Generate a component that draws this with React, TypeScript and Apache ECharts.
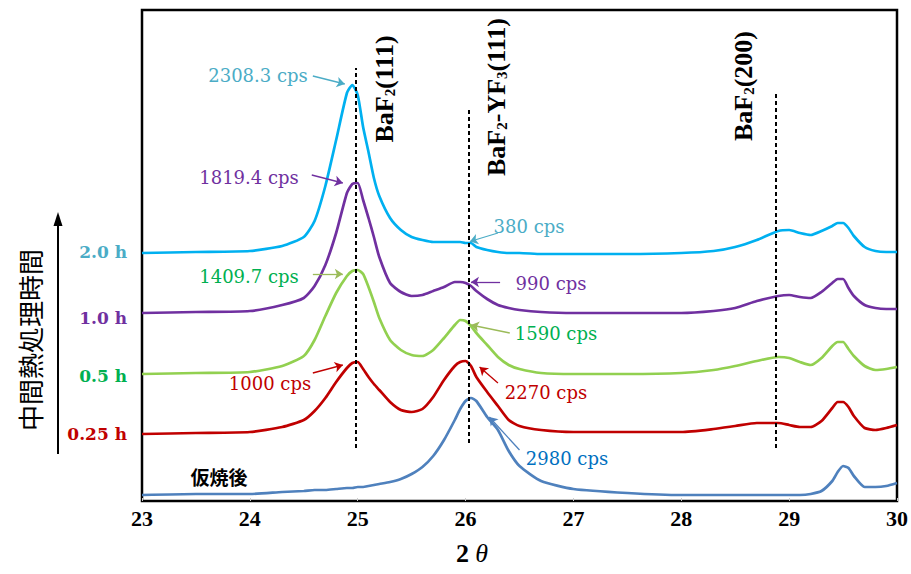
import React, { useEffect, useRef } from "react";
import * as echarts from "echarts";

// 2θ sample positions (deg)
const theta = [
  23.0, 23.5, 24.0, 24.3, 24.5, 24.6, 24.7, 24.8, 24.9, 24.95,
  25.0, 25.05, 25.1, 25.15, 25.2, 25.3, 25.4, 25.5, 25.6, 25.7,
  25.8, 25.9, 25.95, 26.0, 26.05, 26.1, 26.2, 26.3, 26.4, 26.5,
  26.7, 27.0, 27.5, 28.0, 28.3, 28.5, 28.7, 28.9, 29.0, 29.1,
  29.2, 29.3, 29.4, 29.45, 29.5, 29.55, 29.6, 29.7, 29.8, 29.9, 30.0,
];

// stacked intensities (arbitrary units incl. offset)
const h20 = [
  248, 249, 250, 255, 264, 280, 315, 361, 408, 416,
  406, 374, 349, 323, 305, 283, 271, 264, 261, 259,
  259, 259, 259, 258, 258, 254, 251, 249, 248, 248,
  247, 247, 247, 248, 250, 254, 261, 270, 271, 268,
  266, 270, 275, 278, 278, 273, 265, 254, 250, 249, 249,
];
const h10 = [
  188, 189, 190, 196, 203, 215, 236, 268, 308, 317,
  318, 301, 283, 264, 244, 218, 209, 205, 206, 210,
  214, 219, 219, 218, 215, 210, 202, 196, 193, 191,
  189, 188, 188, 188, 190, 193, 200, 205, 206, 204,
  203, 209, 218, 222, 222, 213, 205, 196, 193, 192, 192,
];
const h05 = [
  127, 128, 129, 135, 145, 161, 185, 208, 225, 230,
  231, 227, 214, 199, 183, 161, 151, 146, 145, 151,
  163, 176, 181, 180, 175, 168, 156, 144, 136, 132,
  128, 127, 127, 128, 131, 135, 140, 144, 143, 139,
  136, 143, 155, 159, 159, 152, 145, 135, 131, 132, 134,
];
const h025 = [
  67, 68, 69, 74, 81, 90, 103, 119, 133, 138,
  139, 132, 124, 117, 111, 99, 91, 89, 92, 104,
  121, 135, 139, 140, 135, 124, 109, 95, 81, 75,
  71, 69, 69, 69, 72, 75, 78, 78, 76, 74,
  74, 80, 93, 99, 99, 94, 85, 73, 71, 73, 76,
];
const calcined = [
  6, 7, 7, 9, 10, 11, 11, 12, 13, 13,
  14, 14, 15, 16, 17, 19, 22, 27, 34, 45,
  61, 81, 92, 100, 103, 100, 84, 71, 50, 35,
  20, 12, 8, 6, 6, 6, 6, 6, 6, 6,
  7, 10, 20, 29, 35, 33, 25, 14, 14, 15, 18,
];

const seriesNames = ["2.0 h", "1.0 h", "0.5 h", "0.25 h", "仮焼後"];
const seriesValues = [h20, h10, h05, h025, calcined];
const lineColors = ["#00b0f0", "#7030a0", "#92d050", "#c00000", "#4f81bd"];
const labelColors = ["#4bacc6", "#7030a0", "#00b050", "#c00000", "#0070c0"];
const arrowColors = ["#4bacc6", "#7030a0", "#9bbb59", "#c00000", "#4f81bd"];

// peak reference lines: 2θ, from, to
const peakTheta = [24.98, 26.03, 28.88];
const peakFrom = [53, 58, 53];
const peakTo = [433, 391, 408];
const peakNames = [
  "{b|BaF}{s|2}{b|(111)}",
  "{b|BaF}{s|2}{b|-YF}{s|3}{b|(111)}",
  "{b|BaF}{s|2}{b|(200)}",
];

// intensity annotations: series index, text, arrow from (x,y) to (x,y)
const annSeries = [0, 1, 2, 3, 0, 1, 2, 3, 4];
const annText = [
  "2308.3 cps", "1819.4 cps", "1409.7 cps", "1000 cps",
  "380 cps", "990 cps", "1590 cps", "2270 cps", "2980 cps",
];
const annFrom = [
  [24.584, 425], [24.574, 326], [24.584, 227], [24.584, 128],
  [26.3, 268], [26.32, 219], [26.41, 168], [26.3, 118], [26.5, 51],
];
const annTo = [
  [24.88, 417], [24.862, 318], [24.862, 227], [24.862, 136],
  [26.04, 259.5], [26.05, 219], [26.05, 176], [26.13, 134], [26.22, 84],
];
const annPos = [
  [258, 75], [249, 177], [249, 276], [270, 383],
  [529, 226], [551, 283], [556, 333], [546, 392], [567, 458],
];

const xTickMin = 23;
const xTickMax = 30;

export default function App() {
  const ref = useRef<HTMLDivElement>(null);

  useEffect(() => {
    if (!ref.current) return;
    const chart = echarts.init(ref.current, undefined, { renderer: "svg" });

    const series: any[] = seriesValues.map((vals, si) => {
      const arrows = annSeries
        .map((s, i) => ({ s, i }))
        .filter((a) => a.s === si)
        .map(({ i }) => [
          { coord: annFrom[i], symbol: "none" },
          { coord: annTo[i], symbol: "arrow" },
        ]);
      const extra =
        si === 4
          ? peakTheta.map((t, k) => [
              {
                coord: [t, peakFrom[k]],
                symbol: "none",
                lineStyle: { color: "#000", width: 2, type: [4, 3] },
              },
              { coord: [t, peakTo[k]], symbol: "none" },
            ])
          : [];
      return {
        name: seriesNames[si],
        type: "line",
        data: theta.map((t, i) => [t, vals[i]]),
        showSymbol: false,
        smooth: 0.2,
        lineStyle: { color: lineColors[si], width: 2.7 },
        itemStyle: { color: lineColors[si] },
        z: 2,
        markLine: {
          silent: true,
          animation: false,
          symbolSize: 8,
          label: { show: false },
          lineStyle: { color: arrowColors[si], width: 1.3, type: "solid" },
          data: [...arrows, ...extra],
        },
      };
    });

    const richPeak = {
      b: {
        fontFamily: "Liberation Serif",
        fontWeight: "bold",
        fontSize: 26,
        lineHeight: 26,
        color: "#000",
      },
      s: {
        fontFamily: "Liberation Serif",
        fontWeight: "bold",
        fontSize: 15,
        lineHeight: 6,
        verticalAlign: "bottom",
        color: "#000",
      },
    };
    const peakPos = [
      [384, 89],
      [496, 97],
      [743, 86],
    ];

    const graphic: any[] = [];
    peakNames.forEach((txt, k) => {
      graphic.push({
        type: "text",
        x: peakPos[k][0],
        y: peakPos[k][1],
        rotation: Math.PI / 2,
        style: { text: txt, rich: richPeak, align: "center", verticalAlign: "middle" },
      });
    });
    annText.forEach((txt, i) => {
      graphic.push({
        type: "text",
        x: annPos[i][0],
        y: annPos[i][1],
        style: {
          text: txt,
          fill: labelColors[annSeries[i]],
          font: "18px 'DejaVu Serif'",
          align: "center",
          verticalAlign: "middle",
        },
      });
    });
    const leftY = [252, 318, 376, 434];
    for (let k = 0; k < 4; k++) {
      graphic.push({
        type: "text",
        x: 127,
        y: leftY[k],
        style: {
          text: seriesNames[k],
          fill: labelColors[k],
          font: "bold 17px 'DejaVu Serif'",
          align: "right",
          verticalAlign: "middle",
        },
      });
    }
    graphic.push({
      type: "text",
      x: 219,
      y: 476,
      style: {
        text: seriesNames[4],
        fill: "#000",
        font: "bold 19px 'Noto Sans CJK JP'",
        align: "center",
        verticalAlign: "middle",
      },
    });
    graphic.push({
      type: "text",
      x: 29,
      y: 340,
      rotation: Math.PI / 2,
      style: {
        text: "中間熱処理時間",
        fill: "#000",
        font: "26px 'Noto Sans CJK JP'",
        align: "center",
        verticalAlign: "middle",
      },
    });
    graphic.push({
      type: "line",
      shape: { x1: 58, y1: 454, x2: 58, y2: 222 },
      style: { stroke: "#000", lineWidth: 2 },
    });
    graphic.push({
      type: "polygon",
      shape: { points: [[58, 212], [53.5, 226], [62.5, 226]] },
      style: { fill: "#000" },
    });
    graphic.push({
      type: "text",
      x: 472,
      y: 553,
      style: {
        text: "{a|2 }{b|θ}",
        rich: {
          a: { fontFamily: "Liberation Serif", fontWeight: "bold", fontSize: 26, color: "#000" },
          b: { fontFamily: "Liberation Serif", fontStyle: "italic", fontSize: 26, color: "#000" },
        },
        align: "center",
        verticalAlign: "middle",
      },
    });

    chart.setOption({
      animation: false,
      backgroundColor: "#fff",
      grid: {
        left: 142,
        right: 14,
        top: 10,
        bottom: 73,
        show: true,
        borderColor: "#000",
        borderWidth: 2.5,
        backgroundColor: "transparent",
      },
      xAxis: {
        type: "value",
        min: xTickMin,
        max: xTickMax,
        interval: 1,
        axisLine: { show: false },
        axisTick: { show: true, inside: true, length: 3, lineStyle: { color: "#ccc" } },
        splitLine: { show: false },
        axisLabel: {
          color: "#000",
          fontFamily: "Liberation Serif",
          fontWeight: "bold",
          fontSize: 22,
          margin: 6,
        },
      },
      yAxis: { type: "value", min: 0, max: 491, show: false },
      series,
      graphic,
    });

    return () => chart.dispose();
  }, []);

  return (
    <div
      ref={ref}
      style={{ position: "fixed", left: 0, top: 0, width: 911, height: 574, background: "#fff" }}
    />
  );
}
